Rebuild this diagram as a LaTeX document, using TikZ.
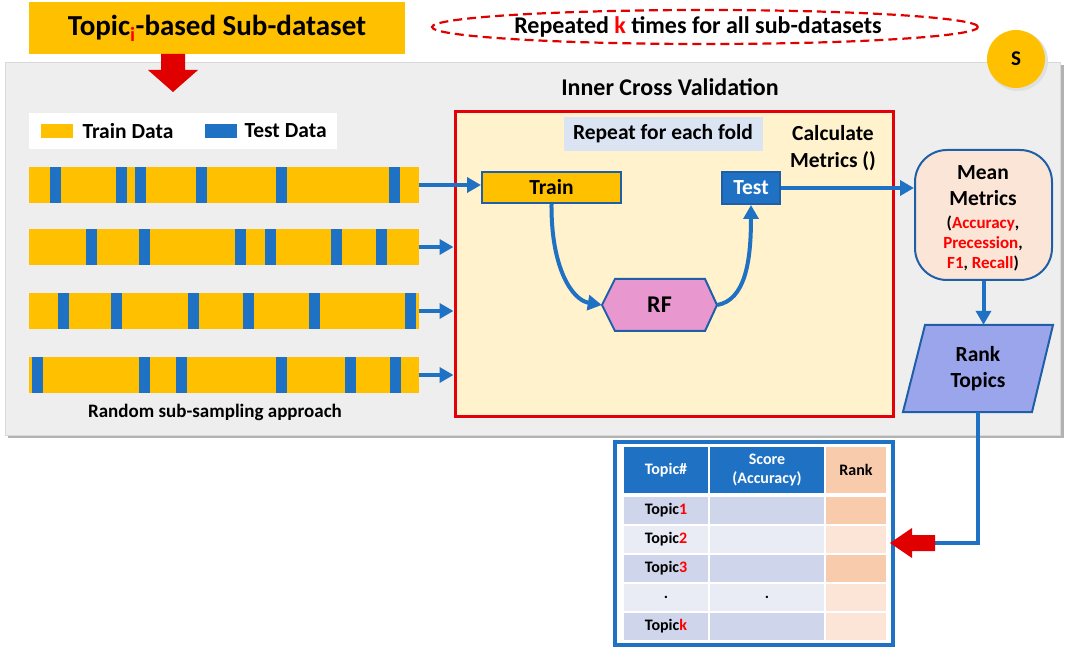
\documentclass[tikz,border=0pt]{standalone}
\usepackage{fontspec}
\setmainfont{Carlito}
\usetikzlibrary{arrows.meta,shapes.geometric,calc}
\definecolor{gold}{HTML}{FFC000}
\definecolor{tblue}{HTML}{1F71C4}
\definecolor{dblue}{HTML}{1F5FA8}
\definecolor{boxred}{HTML}{E3000B}
\definecolor{arrred}{HTML}{E00000}
\definecolor{lyellow}{HTML}{FFF2CC}
\definecolor{lblue}{HTML}{DAE4F2}
\definecolor{pinkrf}{HTML}{E898CE}
\definecolor{peach}{HTML}{FBE5D6}
\definecolor{peri}{HTML}{9BA5EC}
\definecolor{panelgray}{HTML}{EEEEEE}
\definecolor{rowA}{HTML}{CFD5EA}
\definecolor{rowB}{HTML}{E9EBF5}
\definecolor{rkA}{HTML}{F8CBAD}
\definecolor{rkB}{HTML}{FCE4D6}
\definecolor{txtred}{HTML}{FF0000}
\tikzset{
  barstyle/.style={fill=gold, minimum width=390pt, minimum height=36pt, inner sep=0pt},
  barrow/.style={draw=tblue, line width=4pt, -{Triangle[length=14pt,width=15pt]}},
  bline/.style={draw=tblue, line width=4pt},
  cell/.style={draw=white, line width=2pt, inner sep=0pt, font=\fontsize{16}{19}\selectfont\bfseries, align=center},
}
\begin{document}
\begin{tikzpicture}[x=1pt,y=-1pt,font=\bfseries]
\useasboundingbox (0,0) rectangle (1072,647);
% panel
\fill[black!30] (8,65) rectangle (1064,438);
\node[fill=panelgray, draw=black!15, minimum width=1055pt, minimum height=373pt, inner sep=0pt] (panel) at (532.5,248.5) {};
% title
\node[fill=gold, minimum width=376pt, minimum height=52pt, inner sep=0pt, font=\fontsize{29}{34}\selectfont\bfseries] (title) at (217,28) {Topic\textsubscript{\color{txtred}i}-based Sub-dataset};
\fill[arrred] (161,54) -- (185,54) -- (185,70) -- (198,70) -- (173,92) -- (148,70) -- (161,70) -- cycle;
% repeated ellipse
\node[draw=arrred, dash pattern=on 9pt off 5pt, line width=2.2pt, ellipse, minimum width=546pt, minimum height=34pt, inner sep=0pt] (rep) at (705,27) {};
\node[font=\fontsize{24}{28}\selectfont\bfseries] (reptext) at (698,27) {Repeated {\color{txtred}k} times for all sub-datasets};
% S circle
\fill[black!12] (1018,61) circle (30pt);
\node[circle, fill=gold, minimum size=58pt, inner sep=0pt, font=\fontsize{21}{24}\selectfont\bfseries] (s) at (1016,59) {S};
% inner cross validation label
\node[font=\fontsize{24}{28}\selectfont\bfseries] (icv) at (670,87) {Inner Cross Validation};
% legend
\node[fill=white, minimum width=308pt, minimum height=36pt, inner sep=0pt] (legend) at (183,131) {};
\fill[gold] (41,124) rectangle (73,138);
\node[anchor=west, font=\fontsize{21.5}{25}\selectfont\bfseries] (ltrain) at (79,131) {Train Data};
\fill[tblue] (205,124) rectangle (237,138);
\node[anchor=west, font=\fontsize{21.5}{25}\selectfont\bfseries] (ltest) at (241,131) {Test Data};
% bars
\node[barstyle] (b1) at (224,185) {};
\node[barstyle] (b2) at (224,247) {};
\node[barstyle] (b3) at (224,311) {};
\node[barstyle] (b4) at (224,375) {};
\foreach \x in {50,116,135,196,276,389} \fill[tblue] (\x,167) rectangle (\x+11,203);
\foreach \x in {86,139,235,265,331,376} \fill[tblue] (\x,229) rectangle (\x+11,265);
\foreach \x in {58,111,188,243,309,405} \fill[tblue] (\x,293) rectangle (\x+11,329);
\foreach \x in {32,139,176,276,345,390} \fill[tblue] (\x,357) rectangle (\x+11,393);
\node[font=\fontsize{19}{23}\selectfont\bfseries] (rss) at (215,412) {Random sub-sampling approach};
% inner red box
\node[draw=boxred, fill=lyellow, line width=3pt, minimum width=438pt, minimum height=304pt, inner sep=0pt] (inner) at (674,264) {};
\node[fill=lblue, minimum width=199pt, minimum height=34pt, inner sep=0pt, font=\fontsize{21.5}{25}\selectfont\bfseries] (rep2) at (663,134) {Repeat for each fold};
\node[align=center, font=\fontsize{21.5}{27}\selectfont\bfseries] (calc) at (833,148) {Calculate\\Metrics ()};
\node[fill=gold, draw=dblue, line width=2pt, minimum width=139pt, minimum height=31pt, inner sep=0pt, font=\fontsize{21.5}{25}\selectfont\bfseries] (train) at (551.5,187.5) {Train};
\node[fill=tblue, draw=dblue, line width=2pt, minimum width=58pt, minimum height=32pt, inner sep=0pt, text=white, font=\fontsize{21.5}{25}\selectfont\bfseries] (test) at (751,188) {Test};
\draw[fill=pinkrf, draw=dblue, line width=2pt] (602,305) -- (615,279) -- (705,279) -- (717,305) -- (705,331) -- (615,331) -- cycle;
\node[minimum width=115pt, minimum height=52pt, inner sep=0pt, font=\fontsize{24}{28}\selectfont\bfseries] (rf) at (659.5,305) {RF};
% connectors
\draw[barrow] (b1.east) -- (b1.east -| train.west);
\draw[barrow] (b2.east) -- (b2.east -| inner.west);
\draw[barrow] (b3.east) -- (b3.east -| inner.west);
\draw[barrow] (b4.east) -- (b4.east -| inner.west);
\draw[barrow] (train.south) .. controls (551,268) and (572,300) .. (rf.west);
\draw[barrow] (rf.east) .. controls (745,300) and (751,262) .. (test.south);
% mean metrics
\node[draw=dblue, fill=peach, rounded corners=32pt, line width=2pt, minimum width=137pt, minimum height=130pt, inner sep=0pt] (mean) at (983.5,215) {};
\node[align=center, font=\fontsize{21.5}{26}\selectfont\bfseries] (meant) at (983,186) {Mean\\Metrics};
\node[align=center, font=\fontsize{17}{20}\selectfont\bfseries] (meanm) at (983,243) {({\color{txtred}Accuracy},\\{\color{txtred}Precession},\\{\color{txtred}F1}, {\color{txtred}Recall})};
\draw[barrow] (test.east) -- (test.east -| mean.west);
% rank topics
\draw[fill=peri, draw=dblue, line width=2pt] (925,325) -- (1053,325) -- (1032,412) -- (903,412) -- cycle;
\node[minimum width=150pt, minimum height=87pt, inner sep=0pt, align=center, font=\fontsize{21.5}{26}\selectfont\bfseries] (rank) at (978,368.5) {Rank\\Topics};
\draw[barrow] (mean.south) -- (mean.south |- rank.north);
% table
\node[draw=tblue, line width=4pt, fill=white, minimum width=278pt, minimum height=203pt, inner sep=0pt] (tbl) at (754,543.5) {};
\node[cell, fill=tblue, text=white, minimum width=86pt, minimum height=48pt] (h1) at (666,470) {Topic\#};
\node[cell, fill=tblue, text=white, minimum width=116pt, minimum height=48pt] (h2) at (767,470) {Score\\(Accuracy)};
\node[cell, fill=rkA, minimum width=62pt, minimum height=48pt] (h3) at (856,470) {Rank};
\node[cell, fill=rowA, minimum width=86pt, minimum height=29pt] (r1a) at (666,510) {Topic{\color{txtred}1}};
\node[cell, fill=rowA, minimum width=116pt, minimum height=29pt] (r1b) at (767,510) {};
\node[cell, fill=rkA, minimum width=62pt, minimum height=29pt] (r1c) at (856,510) {};
\node[cell, fill=rowB, minimum width=86pt, minimum height=29pt] (r2a) at (666,539) {Topic{\color{txtred}2}};
\node[cell, fill=rowB, minimum width=116pt, minimum height=29pt] (r2b) at (767,539) {};
\node[cell, fill=rkB, minimum width=62pt, minimum height=29pt] (r2c) at (856,539) {};
\node[cell, fill=rowA, minimum width=86pt, minimum height=29pt] (r3a) at (666,568) {Topic{\color{txtred}3}};
\node[cell, fill=rowA, minimum width=116pt, minimum height=29pt] (r3b) at (767,568) {};
\node[cell, fill=rkA, minimum width=62pt, minimum height=29pt] (r3c) at (856,568) {};
\node[cell, fill=rowB, minimum width=86pt, minimum height=29pt] (r4a) at (666,597) {.};
\node[cell, fill=rowB, minimum width=116pt, minimum height=29pt] (r4b) at (767,597) {.};
\node[cell, fill=rkB, minimum width=62pt, minimum height=29pt] (r4c) at (856,597) {};
\node[cell, fill=rowA, minimum width=86pt, minimum height=29pt] (r5a) at (666,626) {Topic{\color{txtred}k}};
\node[cell, fill=rowA, minimum width=116pt, minimum height=29pt] (r5b) at (767,626) {};
\node[cell, fill=rkB, minimum width=62pt, minimum height=29pt] (r5c) at (856,626) {};
% rank -> table
\coordinate (rtail) at (935,543);
\draw[bline] (rank.south) |- (rtail);
\fill[arrred] (935,535) -- (912,535) -- (912,528) -- (890,543) -- (912,558) -- (912,551) -- (935,551) -- cycle;
\end{tikzpicture}
\end{document}
